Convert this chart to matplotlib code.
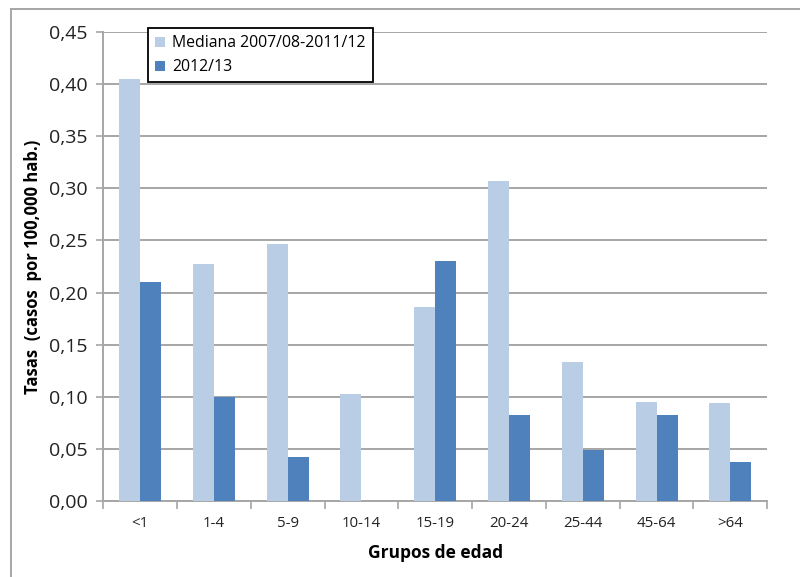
import matplotlib
matplotlib.use("Agg")
import numpy as np
from matplotlib import pyplot as plt
from matplotlib.lines import Line2D

grupos = ['<1', '1-4', '5-9', '10-14', '15-19', '20-24', '25-44', '45-64', '>64']
mediana = [0.405, 0.227, 0.247, 0.103, 0.186, 0.307, 0.133, 0.095, 0.094]
temporada = [0.210, 0.100, 0.042, 0.0, 0.230, 0.083, 0.049, 0.083, 0.037]
y_ticks = [0.00, 0.05, 0.10, 0.15, 0.20, 0.25, 0.30, 0.35, 0.40, 0.45]

LIGHT = '#B9CDE5'
DARK = '#4F81BD'
GRID = '#A6A6A6'

plt.rcParams['font.family'] = ['Open Sans', 'DejaVu Sans']

fig = plt.figure(figsize=(8, 5.77), dpi=100)
ax = fig.add_axes([0.129, 0.1317, 0.830, 0.8128])

x = np.arange(len(grupos))
w = 0.285
ax.bar(x - w / 2, mediana, w, color=LIGHT, label='Mediana 2007/08-2011/12', zorder=3)
ax.bar(x + w / 2, temporada, w, color=DARK, label='2012/13', zorder=3)

ax.set_xlim(-0.5, len(grupos) - 0.5)
ax.set_ylim(0, 0.45)
ax.set_yticks(y_ticks)
ax.set_yticklabels([f'{v:.2f}'.replace('.', ',') for v in y_ticks], fontsize=14, color='#222222')
ax.yaxis.grid(True, color=GRID, linewidth=1.4, zorder=0)

ax.set_xticks(x)
ax.set_xticklabels(grupos, fontsize=10.8, color='#222222')
ax.tick_params(axis='x', length=0, pad=11)
ax.set_xticks(np.arange(len(grupos) + 1) - 0.5, minor=True)
ax.tick_params(axis='x', which='minor', length=6, color=GRID, width=1.2)
ax.tick_params(axis='y', length=5, color=GRID, width=1.2, pad=6)

for s in ['top', 'right']:
    ax.spines[s].set_visible(False)
for s in ['left', 'bottom']:
    ax.spines[s].set_color(GRID)
    ax.spines[s].set_linewidth(1.4)

ax.set_xlabel('Grupos de edad', fontsize=12.5, fontweight='bold', labelpad=9)
ax.set_ylabel('Tasas  (casos  por 100,000 hab.)', fontsize=12, fontweight='bold', labelpad=5)

leg = ax.legend(loc='upper left', bbox_to_anchor=(0.068, 1.008), fontsize=11.4,
                frameon=True, fancybox=False, edgecolor='black', framealpha=1,
                handlelength=0.6, handleheight=0.6, handletextpad=0.45,
                borderpad=0.45, labelspacing=0.5, borderaxespad=0)
leg.get_frame().set_linewidth(1.3)
leg.set_zorder(5)

# outer chart frame (partially cropped)
fig.add_artist(Line2D([11 / 800, 11 / 800], [0, 1 - 9 / 577], color=GRID, linewidth=1.4))
fig.add_artist(Line2D([11 / 800, 1], [1 - 9 / 577, 1 - 9 / 577], color=GRID, linewidth=1.4))

fig.savefig('out.png', dpi=100)
